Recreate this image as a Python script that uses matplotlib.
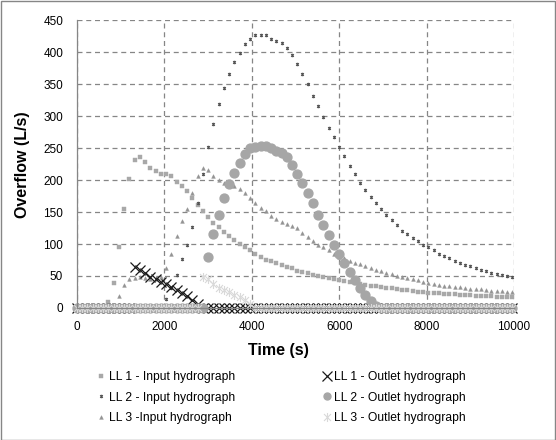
#Overflow hydrographs for the three LL cases
import numpy as np
import matplotlib
matplotlib.use('Agg')
import matplotlib.pyplot as plt
from matplotlib.path import Path
from matplotlib.patches import Rectangle

#Time axis (s), one reading every 2 minutes
time_s = np.arange(0, 10000, 120)

#Input hydrographs (L/s)
ll1_input = [0, 0, 0, 0, 0, 0, 10, 39, 95, 154,
             201, 231, 236, 228, 218, 214, 210, 209, 206, 197,
             191, 183, 172, 161, 152, 142, 133, 126, 119, 112,
             106, 100, 95, 91, 85, 79, 75, 73, 70, 67,
             64.5, 62, 58, 56, 54, 52, 50, 48, 47, 45,
             43, 42, 40.5, 39, 38, 36, 35, 34, 32.5, 31.5,
             30.7, 29.7, 28.6, 27.6, 27, 25.5, 24.5, 24, 23.4, 22.9,
             22.4, 21.9, 21.4, 20.8, 20.3, 19.8, 19.3, 19, 18.7, 18.2,
             17.7, 17.5, 17.2, 17]
ll2_input = [0, 0, 0, 0, 0, 0, 0, 0, 0, 0,
             0, 0, 0, 0, 0, 0, 2, 13.5, 32, 52,
             76, 99, 127, 164, 209, 252, 288, 318, 343, 365,
             384, 399, 413, 421, 427, 427, 427, 421, 417, 414,
             407, 395, 381, 366, 350, 332, 315, 298, 282, 267,
             251, 237, 222, 209, 196, 185, 173, 163.5, 154, 145,
             137.5, 129, 121, 116, 110, 104, 99, 95, 90, 85,
             82, 77.6, 73.4, 70.3, 67.7, 65, 62, 60, 57.3, 55.2,
             52.6, 51, 50, 49]
ll3_input = [0, 0, 0, 0, 0, 0, 0, 5, 18.5, 35.5,
             45, 47.5, 48, 47, 46, 46, 49, 62, 84, 113,
             136, 154, 179, 206, 218, 215, 207, 199.5, 196, 195,
             190.6, 185.4, 179, 171.4, 164, 157, 152, 144, 139, 135,
             131, 128.6, 124.5, 117, 111, 105, 98.4, 95, 90, 84.4,
             80, 77.6, 74, 71, 68.3, 66, 63, 59.4, 58, 55,
             52.5, 50, 48.4, 47, 45.3, 43.7, 41, 39.6, 38, 36.5,
             35, 34.4, 33.3, 32.3, 31.2, 30.2, 29.7, 29.2, 28, 27,
             26.6, 26, 25, 24.5]

#Outlet hydrographs (L/s)
ll1_outlet = [0, 0, 0, 0, 0, 0, 0, 0, 0, 0,
              0, 63.5, 59, 54, 49, 45, 41, 37.5, 33, 28,
              23, 18, 12.5, 7, 0, 0, 0, 0, 0, 0,
              0, 0, 0, 0, 0, 0, 0, 0, 0, 0,
              0, 0, 0, 0, 0, 0, 0, 0, 0, 0,
              0, 0, 0, 0, 0, 0, 0, 0, 0, 0,
              0, 0, 0, 0, 0, 0, 0, 0, 0, 0,
              0, 0, 0, 0, 0, 0, 0, 0, 0, 0,
              0, 0, 0, 0]
ll2_outlet = [0, 0, 0, 0, 0, 0, 0, 0, 0, 0,
              0, 0, 0, 0, 0, 0, 0, 0, 0, 0,
              0, 0, 0, 0, 0, 79, 115, 145, 172, 193,
              211, 227, 240, 249.5, 252, 253, 253, 250, 246, 242,
              236.5, 224, 210, 196, 180, 163.5, 146, 129, 113.5, 99,
              85, 70, 57, 44, 32, 20, 11, 3, 0, 0,
              0, 0, 0, 0, 0, 0, 0, 0, 0, 0,
              0, 0, 0, 0, 0, 0, 0, 0, 0, 0,
              0, 0, 0, 0]
ll3_outlet = [0, 0, 0, 0, 0, 0, 0, 0, 0, 0,
              0, 0, 0, 0, 0, 0, 0, 0, 0, 0,
              0, 0, 0, 0, 48, 46, 38, 32, 28, 25.5,
              21, 17, 12, 6, 0, 0, 0, 0, 0, 0,
              0, 0, 0, 0, 0, 0, 0, 0, 0, 0,
              0, 0, 0, 0, 0, 0, 0, 0, 0, 0,
              0, 0, 0, 0, 0, 0, 0, 0, 0, 0,
              0, 0, 0, 0, 0, 0, 0, 0, 0, 0,
              0, 0, 0, 0]

labels = ['LL 1 - Input hydrograph', 'LL 2 - Input hydrograph', 'LL 3 -Input hydrograph',
          'LL 1 - Outlet hydrograph', 'LL 2 - Outlet hydrograph', 'LL 3 - Outlet hydrograph']

plt.rcParams['font.family'] = ['Liberation Sans', 'DejaVu Sans']

#excel style star: an x with a vertical bar through it
star = Path([(-1, -1), (1, 1), (-1, 1), (1, -1), (0, -1.3), (0, 1.3)],
            [Path.MOVETO, Path.LINETO] * 3)

fig = plt.figure(figsize=(5.56, 4.40), dpi=100)
ax = fig.add_axes([77/556, 1 - 308/440, 437/556, 288/440])

grey = '#868686'
ax.plot(time_s, ll1_input, ls='none', marker='s', ms=2.3, mew=0.3, mfc='#a8a8a8', mec='#a8a8a8', clip_on=False, label=labels[0])
ax.plot(time_s, ll2_input, ls='none', marker=star, ms=2.5, mew=0.8, mec='#555555', clip_on=False, label=labels[1])
ax.plot(time_s, ll3_input, ls='none', marker='^', ms=2.7, mew=0.3, mfc='#939393', mec='#939393', clip_on=False, label=labels[2])
ax.plot(time_s, ll1_outlet, ls='none', marker='x', ms=7.5, mew=0.9, mec='#1a1a1a', clip_on=False, label=labels[3])
ax.plot(time_s, ll2_outlet, ls='none', marker='o', ms=6.4, mfc='#a6a6a6', mec='#a6a6a6', clip_on=False, label=labels[4])
ax.plot(time_s, ll3_outlet, ls='none', marker=star, ms=6.5, mew=0.8, mec='#d9d9d9', clip_on=False, label=labels[5])

ax.set_xlim(0, 10000)
ax.set_ylim(0, 450)
ax.set_xticks(np.arange(0, 10001, 2000))
ax.set_yticks(np.arange(0, 451, 50))
ax.grid(True, color=grey, linestyle=(0, (4, 3)), linewidth=0.9)
ax.set_axisbelow(True)
for side in ['top', 'right']:
    ax.spines[side].set_visible(False)
for side in ['left', 'bottom']:
    ax.spines[side].set_color(grey)
    ax.spines[side].set_linewidth(0.9)
ax.tick_params(axis='both', length=0, labelsize=8.5, colors='black')
ax.tick_params(axis='y', pad=10)
ax.tick_params(axis='x', pad=9)

fig.text(278/556, 1 - 350/440, 'Time (s)', ha='center', va='center', fontsize=11.5, fontweight='bold')
fig.text(23/556, 1 - 165/440, 'Overflow (L/s)', ha='center', va='center', rotation=90, fontsize=11.5, fontweight='bold')

leg = fig.legend(loc='upper left', bbox_to_anchor=(96/556, 1 - 371/440), ncol=2, frameon=False,
                 fontsize=8.7, handlelength=0.8, handletextpad=0.25, columnspacing=7.2,
                 labelspacing=0.72, borderpad=0, borderaxespad=0)
#excel draws the legend circle a bit smaller than in the plot
leg.legend_handles[4].set_markersize(5.0)

#thin grey frame round the whole chart
fig.patches.append(Rectangle((0.5/556, 0.5/440), 1 - 1.5/556, 1 - 1.5/440, transform=fig.transFigure,
                             fill=False, edgecolor=grey, linewidth=1))

plt.savefig('out.png', dpi=100)
